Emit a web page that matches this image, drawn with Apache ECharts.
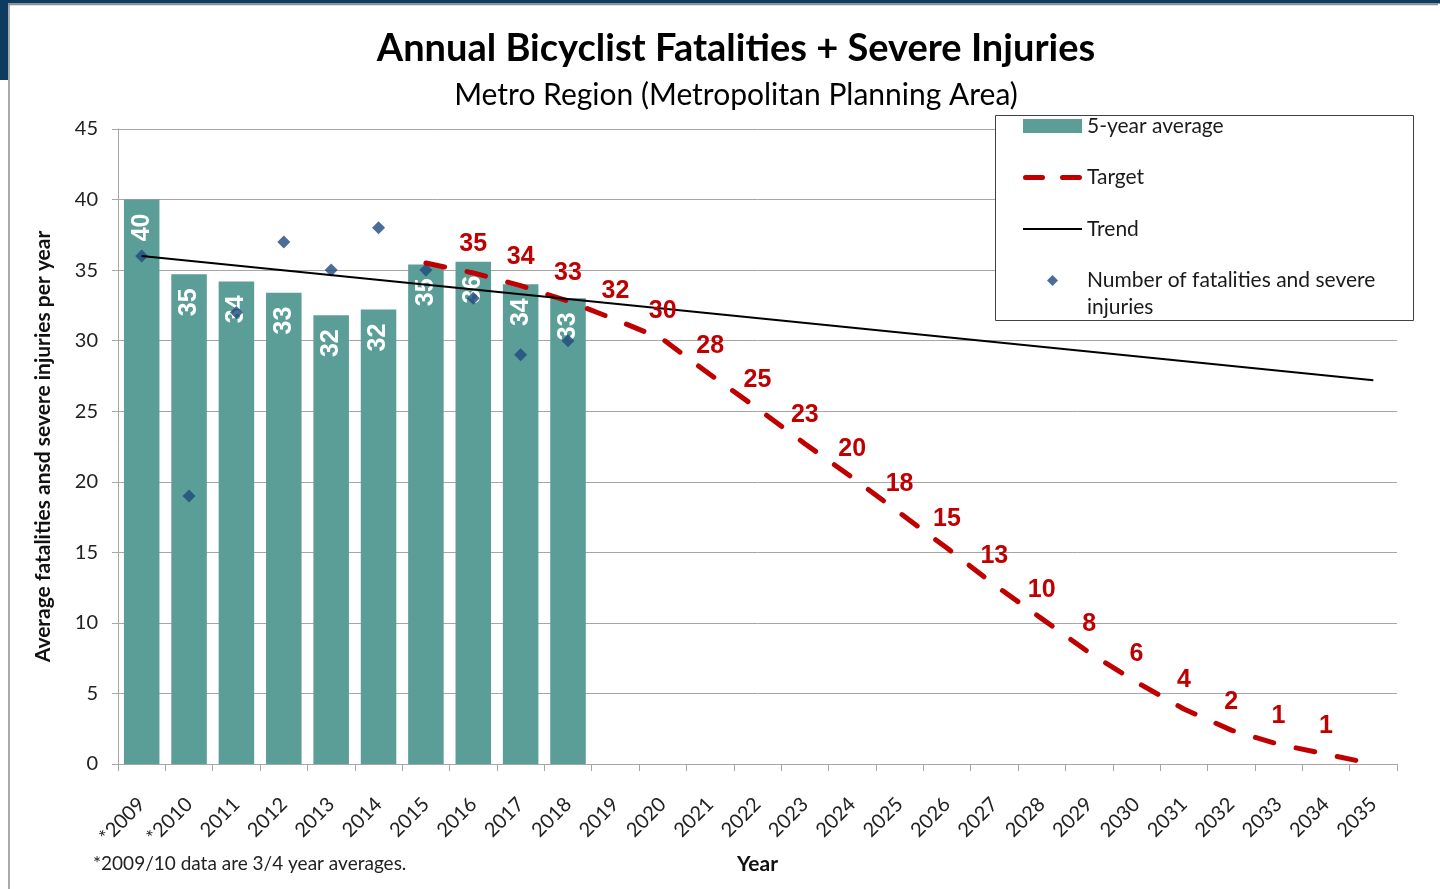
<!DOCTYPE html>
<html>
<head>
<meta charset="utf-8">
<title>Annual Bicyclist Fatalities + Severe Injuries</title>
<script src="https://cdn.jsdelivr.net/npm/echarts@6/dist/echarts.min.js"></script>
<style>
    html, body { margin: 0; padding: 0; background: #fff; }
    #chart { width: 1440px; height: 889px; }
</style>
</head>
<body>
<div id="chart"></div>
<script>
'use strict';

// values
var years = ['*2009', '*2010', '2011', '2012', '2013', '2014', '2015', '2016', '2017', '2018',
    '2019', '2020', '2021', '2022', '2023', '2024', '2025', '2026', '2027', '2028',
    '2029', '2030', '2031', '2032', '2033', '2034', '2035'];
var fiveYearAvg = [40.0, 34.7, 34.2, 33.4, 31.8, 32.2, 35.4, 35.6, 34.0, 33.0];
var yearlyCount = [36, 19, 32, 37, 35, 38, 35, 33, 29, 30];
var target = [null, null, null, null, null, null, 35.5, 34.8, 33.9, 32.8,
    31.5, 30.1, 27.6, 25.2, 22.7, 20.3, 17.8, 15.3, 12.7, 10.3,
    7.9, 5.8, 3.9, 2.4, 1.4, 0.7, 0];
var targetLabels = ['', '', '', '', '', '', '', '35', '34', '33',
    '32', '30', '28', '25', '23', '20', '18', '15', '13', '10',
    '8', '6', '4', '2', '1', '1', ''];
// trend line: only the two ends are read, the line joins them
var trend = [36.0, null, null, null, null, null, null, null, null, null,
    null, null, null, null, null, null, null, null, null, null,
    null, null, null, null, null, null, 27.2];

var countName = 'Number of fatalities and severe injuries';

var FONT = 'Lato, "Open Sans", sans-serif';
var NARROW = '"Liberation Sans Narrow", "Arial Narrow", sans-serif';
var TEAL = '#5a9e97';
var RED = '#c00000';
var NAVY = '#1f497d';
var GRID = '#a6a6a6';

var chart = echarts.init(document.getElementById('chart'));

var option = {
    backgroundColor: '#fff',
    animation: false,
    title: {
        text: 'Annual Bicyclist Fatalities + Severe Injuries',
        subtext: 'Metro Region (Metropolitan Planning Area)',
        left: 731,
        top: 25,
        textAlign: 'center',
        itemGap: 12,
        textStyle: { fontFamily: FONT, fontWeight: 'bold', fontSize: 38, color: '#000' },
        subtextStyle: { fontFamily: FONT, fontSize: 30, color: '#000' }
    },
    legend: {
        orient: 'vertical',
        left: 1023,
        top: 115,
        padding: 0,
        itemWidth: 59,
        itemHeight: 14,
        itemGap: 29.5,
        selectedMode: false,
        textStyle: { fontFamily: FONT, fontSize: 21, lineHeight: 22, color: '#1a1a1a' },
        formatter: function (name) {
            // second line of the long entry is drawn below as its own text
            return name == countName ? name.replace(' injuries', '') : name;
        },
        data: [
            { name: '5-year average', icon: 'rect' },
            { name: 'Target', icon: 'path://M0,0M59,14M2.5,4.5L19.5,4.5A2.5,2.5,0,0,1,19.5,9.5L2.5,9.5A2.5,2.5,0,0,1,2.5,4.5ZM39.5,4.5L56.5,4.5A2.5,2.5,0,0,1,56.5,9.5L39.5,9.5A2.5,2.5,0,0,1,39.5,4.5Z' },
            { name: 'Trend', icon: 'path://M0,0M59,14M0,6L59,6L59,8L0,8Z' },
            { name: countName, icon: 'path://M0,0M59,14M29.5,1.5L35,7L29.5,12.5L24,7Z' }
        ]
    },
    grid: { left: 118, right: 43, top: 129, bottom: 125 },
    xAxis: {
        type: 'category',
        data: years,
        name: 'Year',
        nameLocation: 'middle',
        nameGap: 87,
        nameTextStyle: { fontFamily: FONT, fontWeight: 'bold', fontSize: 21, color: '#111' },
        axisLine: { lineStyle: { color: GRID, width: 1 } },
        axisTick: { show: true, interval: 0, length: 7, lineStyle: { color: GRID } },
        axisLabel: { interval: 0, rotate: 45, margin: 37, fontFamily: FONT, fontSize: 20, color: '#222' }
    },
    yAxis: {
        type: 'value',
        min: 0,
        max: 45,
        interval: 5,
        name: 'Average fatalities ansd severe injuries per year',
        nameLocation: 'middle',
        nameGap: 64,
        nameTextStyle: { fontFamily: FONT, fontWeight: 'bold', fontSize: 21, color: '#111' },
        axisLine: { show: true, lineStyle: { color: GRID, width: 1 } },
        axisTick: { show: true, length: 6, lineStyle: { color: GRID } },
        axisLabel: { margin: 20, fontFamily: FONT, fontSize: 20, color: '#222' },
        splitLine: { lineStyle: { color: GRID, width: 1 } }
    },
    graphic: [
        // slide frame
        { type: 'rect', shape: { x: 0, y: 0, width: 1440, height: 3.5 }, style: { fill: '#0d3c60' }, silent: true },
        { type: 'rect', shape: { x: 0, y: 0, width: 8, height: 80 }, style: { fill: '#0d3c60' }, silent: true },
        { type: 'line', shape: { x1: 8, y1: 4.5, x2: 1438, y2: 4.5 }, style: { stroke: '#8c8c8c', lineWidth: 1.5 }, silent: true },
        { type: 'line', shape: { x1: 9, y1: 4, x2: 9, y2: 889 }, style: { stroke: '#8c8c8c', lineWidth: 1.5 }, silent: true },
        // legend box
        {
            type: 'rect', z: 3,
            shape: { x: 995.5, y: 115.5, width: 418, height: 205 },
            style: { fill: '#fff', stroke: '#404040', lineWidth: 1 },
            silent: true
        },
        {
            type: 'text', z: 5, left: 1087, top: 297,
            style: { text: 'injuries', fontFamily: FONT, fontSize: 21, fill: '#1a1a1a' },
            silent: true
        },
        {
            type: 'text', left: 93, top: 854,
            style: { text: '*2009/10 data are 3/4 year averages.', fontFamily: FONT, fontSize: 19, fill: '#222' },
            silent: true
        }
    ],
    series: [
        {
            name: '5-year average',
            type: 'bar',
            data: fiveYearAvg,
            barWidth: '75%',
            itemStyle: { color: TEAL },
            label: {
                show: true,
                position: 'insideTop',
                distance: 14,
                rotate: 90,
                align: 'right',
                verticalAlign: 'middle',
                fontFamily: NARROW,
                fontWeight: 'bold',
                fontSize: 25,
                color: '#fff',
                formatter: function (p) { return Math.round(p.value); }
            }
        },
        {
            name: 'Target',
            type: 'line',
            data: target,
            symbol: 'circle',
            symbolSize: 0,
            itemStyle: { color: RED },
            lineStyle: { color: RED, width: 5, type: [19, 23], cap: 'round' },
            label: {
                show: true,
                position: 'top',
                distance: 16,
                fontFamily: NARROW,
                fontWeight: 'bold',
                fontSize: 25,
                color: RED,
                formatter: function (p) { return targetLabels[p.dataIndex]; }
            }
        },
        {
            name: 'Trend',
            type: 'line',
            data: trend,
            connectNulls: true,
            symbol: 'none',
            itemStyle: { color: '#000' },
            lineStyle: { color: '#000', width: 2 }
        },
        {
            name: countName,
            type: 'scatter',
            data: yearlyCount,
            symbol: 'diamond',
            symbolSize: 13,
            itemStyle: { color: NAVY }
        }
    ]
};

chart.setOption(option);
</script>
</body>
</html>
